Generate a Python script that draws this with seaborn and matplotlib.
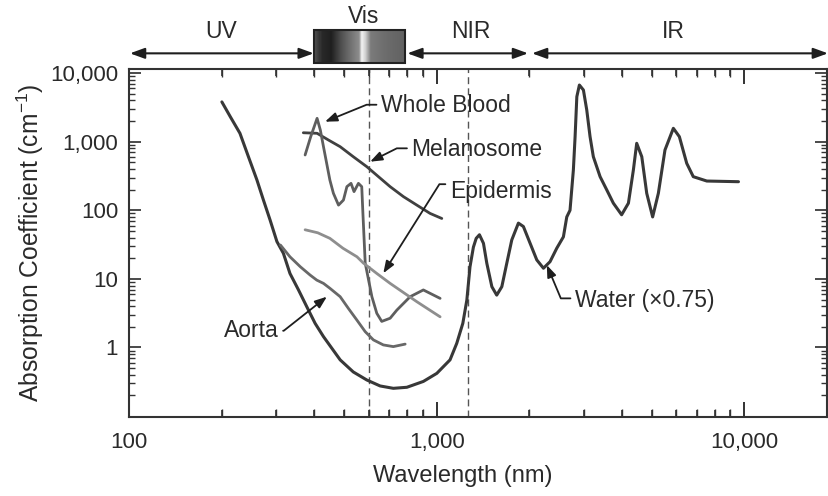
import numpy as np
import pandas as pd
import matplotlib
matplotlib.use("Agg")
import matplotlib.pyplot as plt
import seaborn as sns
from matplotlib.patches import Rectangle
from matplotlib.ticker import FixedLocator, LogLocator, NullFormatter, FixedFormatter

# ---------------- data ----------------
water_nm = [200, 213, 229, 244, 260, 273, 287, 302, 317, 333, 355, 378, 402, 428, 485, 535,
            592, 654, 722, 799, 904, 1000, 1104, 1161, 1215, 1252, 1282, 1315, 1343, 1376,
            1418, 1454, 1510, 1566, 1627, 1689, 1753, 1842, 1912, 2011, 2114, 2222, 2334,
            2455, 2580, 2646, 2711, 2780, 2816, 2853, 2908, 2997, 3073, 3150, 3228, 3396,
            3570, 3750, 3990, 4198, 4357, 4467, 4640, 4815, 5033, 5253, 5520, 5877, 6148,
            6496, 6823, 7550, 9570]
water_abs = [3800, 2313, 1325, 604, 277, 141, 72, 35, 23.6, 12, 6.9, 3.9, 2.25, 1.44, 0.66, 0.44,
             0.336, 0.275, 0.254, 0.263, 0.32, 0.42, 0.66, 1.15, 2.25, 4.9, 15, 29, 39, 44,
             33, 16.9, 7.7, 5.8, 7.7, 17, 37, 65, 58, 33, 18.9, 14.3, 17.8,
             28, 41, 80, 100, 387, 1180, 4530, 6700, 5670, 2900, 1183, 605, 309,
             198, 127, 86, 127, 387, 947, 604, 177, 80, 177, 757, 1567, 1183,
             484, 309, 267, 261]

blood_nm = [373, 389, 408, 418, 428, 449, 461, 479, 497, 510, 526, 538, 556, 570, 575,
            585, 615, 638, 662, 705, 741, 819, 904, 1025]
blood_abs = [640, 1183, 2190, 1480, 845, 276, 177, 119, 141, 221, 247, 187, 247, 221, 90,
             17, 5.5, 3.15, 2.4, 2.67, 3.5, 5.5, 6.9, 5.2]

melano_nm = [368, 408, 444, 485, 535, 592, 646, 705, 779, 861, 951, 1038]
melano_abs = [1350, 1325, 1059, 845, 604, 432, 309, 221, 158, 119, 90, 76]

epi_nm = [373, 410, 449, 495, 550, 577, 638, 705, 780, 861, 940, 1025]
epi_abs = [52, 47, 39, 28, 21, 17, 12, 8.6, 6.3, 4.65, 3.6, 2.8]

aorta_nm = [310, 333, 360, 387, 407, 428, 449, 485, 516, 550, 585, 622, 670, 722, 789]
aorta_abs = [31.2, 21, 15, 11.4, 9.6, 8.6, 7.3, 5.5, 3.7, 2.5, 1.7, 1.29, 1.09, 1.03, 1.12]

band_labels = ["UV", "Vis", "NIR", "IR"]
band_edges = [100, 400, 790, 2000, 18700]
divider_nm = [600, 1260]

x_ticks = [100, 1000, 10000]
x_ticklabels = ["100", "1,000", "10,000"]
y_ticks = [1, 10, 100, 1000, 10000]
y_ticklabels = ["1", "10", "100", "1,000", "10,000"]

# ---------------- style ----------------
sns.set_theme(style="ticks")
plt.rcParams['font.family'] = ['Liberation Sans', 'DejaVu Sans']
plt.rcParams['mathtext.fontset'] = 'custom'
plt.rcParams['mathtext.rm'] = 'Liberation Sans'
plt.rcParams['mathtext.it'] = 'Liberation Sans:italic'
plt.rcParams['mathtext.bf'] = 'Liberation Sans:bold'
plt.rcParams.update({
    'xtick.direction': 'in', 'ytick.direction': 'in',
    'xtick.top': True, 'ytick.right': True,
    'xtick.major.size': 11, 'xtick.minor.size': 5.5,
    'ytick.major.size': 8.5, 'ytick.minor.size': 4.0,
    'xtick.color': '#333333', 'ytick.color': '#333333',
    'axes.axisbelow': False,
})

W, H = 829, 496
XMIN, XMAX = 100, 18570
YMIN, YMAX = 0.097, 11470
fig = plt.figure(figsize=(W / 100, H / 100), dpi=100)
L, R, T, B = 129.3, 827, 69, 417
ax = fig.add_axes([L / W, 1 - B / H, (R - L) / W, (B - T) / H])
ax.set_xscale('log')
ax.set_yscale('log')

ink = '#2a2a2a'
series = [
    (water_nm, water_abs, '#383838', 2.2),
    (melano_nm, melano_abs, '#404040', 2.0),
    (blood_nm, blood_abs, '#5e5e5e', 2.0),
    (aorta_nm, aorta_abs, '#686868', 2.0),
    (epi_nm, epi_abs, '#8e8e8e', 2.0),
]
for xs, ys, col, lw in series:
    sns.lineplot(x=xs, y=ys, ax=ax, color=col, linewidth=lw, estimator=None, sort=False)

for d in divider_nm:
    ax.axvline(d, color='#555555', lw=1.0, ls=(0, (5, 3)), zorder=1)

ax.set_xlim(XMIN, XMAX)
ax.set_ylim(YMIN, YMAX)

ax.xaxis.set_major_locator(FixedLocator(x_ticks))
ax.xaxis.set_major_formatter(FixedFormatter(x_ticklabels))
ax.xaxis.set_minor_locator(LogLocator(base=10, subs=np.arange(2, 10), numticks=20))
ax.xaxis.set_minor_formatter(NullFormatter())
ax.yaxis.set_major_locator(FixedLocator(y_ticks))
ax.yaxis.set_major_formatter(FixedFormatter(y_ticklabels))
ax.yaxis.set_minor_locator(LogLocator(base=10, subs=np.arange(2, 10), numticks=20))
ax.yaxis.set_minor_formatter(NullFormatter())

ax.tick_params(which='both', direction='in', bottom=True, left=True, top=True, right=True,
               labelcolor=ink, labelsize=16)
ax.tick_params(axis='x', which='major', pad=11)
ax.tick_params(axis='y', which='major', pad=8)
for s in ax.spines.values():
    s.set_color('#333333')
    s.set_linewidth(1.5)

# explicit inward x tick marks on bottom and top spines (same positions as the axis ticks)
xt = ax.get_xaxis_transform()
major_len, minor_len = 15 / (B - T), 7.5 / (B - T)
minor_x = [v for v in ax.xaxis.get_minorticklocs() if XMIN < v < XMAX]
for xs_, ln in ((x_ticks, major_len), (minor_x, minor_len)):
    ax.vlines(xs_, 0, ln, transform=xt, color='#333333', lw=1.2, zorder=3, clip_on=False)
    ax.vlines(xs_, 1 - ln, 1, transform=xt, color='#333333', lw=1.2, zorder=3, clip_on=False)

ax.set_xlabel("Wavelength (nm)", fontsize=17, color=ink)
ax.xaxis.set_label_coords(0.478, -0.17)
ax.xaxis.label.set_verticalalignment('center')
ax.set_ylabel("Absorption Coefficient (cm$^{-1}$)", fontsize=17.7, color=ink)
ax.yaxis.set_label_coords(-0.142, 0.5)
ax.yaxis.label.set_verticalalignment('center')

# ---------------- annotations ----------------
def lead(text, tip, txt, ha, relpos, angA, angB):
    ax.annotate(text, xy=tip, xytext=txt, xycoords='data', textcoords='data',
                ha=ha, va='baseline', fontsize=16.5, color=ink,
                arrowprops=dict(arrowstyle='-|>,head_length=0.45,head_width=0.17',
                                mutation_scale=16, lw=1.3, color='#1e1e1e',
                                shrinkA=1.0, shrinkB=0, relpos=relpos,
                                connectionstyle=f"angle,angleA={angA},angleB={angB},rad=0"))

lead("Whole Blood", (433, 1956), (659, 2737), 'left', (0, 0.52), 180, 22.2)
lead("Melanosome", (607, 511), (828, 619), 'left', (0, 0.55), 180, 26.6)
lead("Epidermis", (670, 12.1), (1104, 149.6), 'left', (0, 0.83), 180, 57.8)
lead("Aorta", (439, 5.5), (305.5, 1.41), 'right', (1, 0.5), 0, 38.3)
lead("Water (\u00d70.75)", (2279, 15.9), (2816, 3.93), 'left', (0, 0.58), 180, -67.2)

# ---------------- spectral band header ----------------
arrow_y = 1.045
band_arrow = dict(arrowstyle='<|-|>,head_length=0.55,head_width=0.2', mutation_scale=16,
                  lw=1.5, color='#1e1e1e', shrinkA=0, shrinkB=0)
ax.annotate("", xy=(band_edges[1] * 0.995, arrow_y), xytext=(band_edges[0] * 1.005, arrow_y),
            xycoords=xt, textcoords=xt, arrowprops=band_arrow, annotation_clip=False)
ax.annotate("", xy=(band_edges[3] * 0.99, arrow_y), xytext=(band_edges[2] * 1.015, arrow_y),
            xycoords=xt, textcoords=xt, arrowprops=band_arrow, annotation_clip=False)
ax.annotate("", xy=(band_edges[4], arrow_y), xytext=(band_edges[3] * 1.02, arrow_y),
            xycoords=xt, textcoords=xt, arrowprops=band_arrow, annotation_clip=False)

centers = [199, 576, 1293, 5890]
for name, cx in zip(band_labels, centers):
    yy = 1.152 if name == "Vis" else 1.107
    ax.text(cx, yy, name, transform=xt, ha='center', va='center', fontsize=16.5,
            color=ink, clip_on=False)

# Vis gradient box drawn as thin strips in the same blended transform
box_y0, box_y1 = (B - 63.5) / (B - T), (B - 30) / (B - T)
pos = [0.0, 0.08, 0.18, 0.30, 0.42, 0.49, 0.52, 0.56, 0.62, 0.80, 1.0]
val = [0.33, 0.16, 0.12, 0.32, 0.47, 0.55, 0.95, 0.82, 0.48, 0.42, 0.38]
nstrip = 90
lo, hi = band_edges[1], band_edges[2]
for i in range(nstrip):
    f0, f1 = i / nstrip, (i + 1) / nstrip
    xa, xb = lo * (hi / lo) ** f0, lo * (hi / lo) ** (f1 + 0.004)
    g = float(np.interp((f0 + f1) / 2, pos, val))
    ax.add_patch(Rectangle((xa, box_y0), xb - xa, box_y1 - box_y0, transform=xt,
                           facecolor=(g, g, g), edgecolor='none', clip_on=False, zorder=4))
ax.add_patch(Rectangle((lo, box_y0), hi - lo, box_y1 - box_y0, transform=xt, fill=False,
                       edgecolor='#222222', lw=1.5, clip_on=False, zorder=5))

fig.savefig("out.png", dpi=100)
